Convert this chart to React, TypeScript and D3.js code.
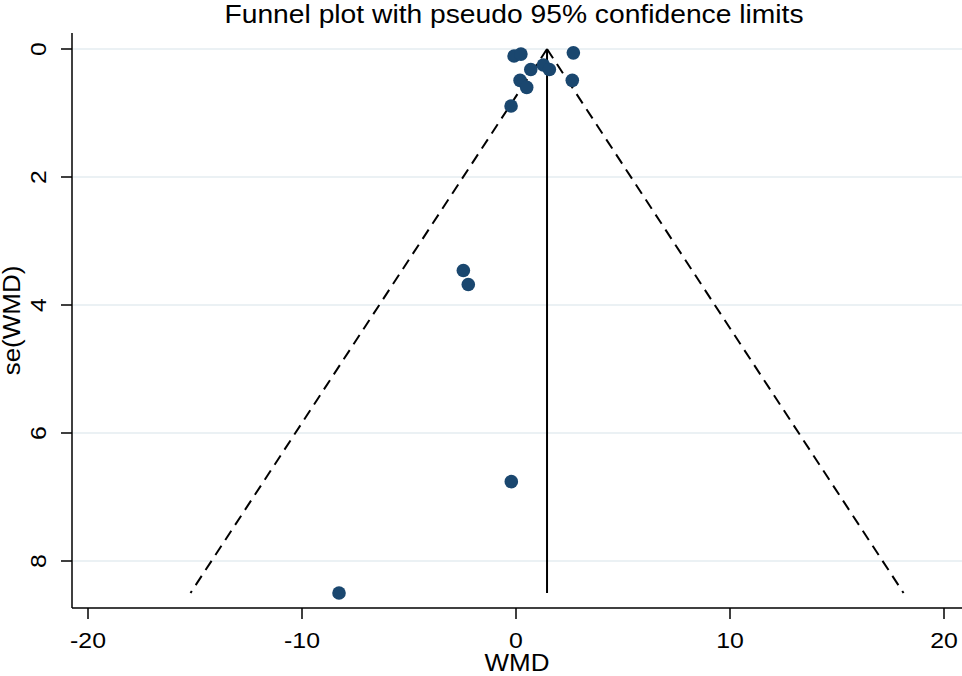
import * as d3 from "d3";
import React from "react";

// study estimates
const wmd = [-0.09, 0.23, 2.68, 0.69, 1.28, 1.56, 0.19, 0.5, 2.63, -0.23, -2.46, -2.23, -0.22, -8.27];
const seWmd = [0.11, 0.08, 0.06, 0.32, 0.25, 0.32, 0.49, 0.6, 0.49, 0.89, 3.46, 3.68, 6.76, 8.5];
const pooled = 1.45;
const seMax = 8.5;
const xTicks = [-20, -10, 0, 10, 20];
const yTicks = [0, 2, 4, 6, 8];

export default function App() {
  const svgRef = React.useRef<SVGSVGElement | null>(null);
  const width = 962;
  const height = 676;

  React.useEffect(() => {
    document.body.style.margin = "0";
    const svg = d3.select(svgRef.current);
    svg.selectAll("*").remove();
    const plot = { left: 72, right: 962, top: 33, bottom: 608 };
    const font = "'Liberation Sans', Arial, sans-serif";
    const stretch = 1.13; // the original glyphs are a bit wider than Arial

    const x = d3.scaleLinear().domain([-20, 20]).range([88, 944]);
    const y = d3.scaleLinear().domain([0, 8]).range([49, 561]);

    // gridlines
    svg
      .append("g")
      .selectAll("line")
      .data(yTicks)
      .join("line")
      .attr("x1", plot.left + 1)
      .attr("x2", plot.right)
      .attr("y1", (d) => y(d))
      .attr("y2", (d) => y(d))
      .attr("stroke", "#e5edf0")
      .attr("stroke-width", 1.5);

    // pseudo 95% limits
    const line = d3
      .line<number[]>()
      .x((d) => x(d[0]))
      .y((d) => y(d[1]));
    [-1.96, 1.96].forEach((z) => {
      svg
        .append("path")
        .attr("d", line([[pooled, 0], [pooled + z * seMax, seMax]]) ?? "")
        .attr("fill", "none")
        .attr("stroke", "#000")
        .attr("stroke-width", 2)
        .attr("stroke-dasharray", "11,7");
    });

    // pooled estimate
    svg
      .append("path")
      .attr("d", line([[pooled, 0], [pooled, seMax]]) ?? "")
      .attr("stroke", "#000")
      .attr("stroke-width", 2);

    // points
    svg
      .append("g")
      .selectAll("circle")
      .data(wmd)
      .join("circle")
      .attr("cx", (d) => x(d))
      .attr("cy", (_, i) => y(seWmd[i]))
      .attr("r", 6.8)
      .attr("fill", "#1a476f");

    // axes
    const xAxis = svg.append("g").attr("transform", `translate(0,${plot.bottom})`);
    xAxis
      .append("line")
      .attr("x1", plot.left)
      .attr("x2", plot.right)
      .attr("stroke", "#000")
      .attr("stroke-width", 1.5);
    xAxis
      .selectAll("g.tick")
      .data(xTicks)
      .join("g")
      .attr("class", "tick")
      .attr("transform", (d) => `translate(${x(d)},0)`)
      .each(function (d) {
        const g = d3.select(this);
        g.append("line").attr("y2", 11).attr("stroke", "#000").attr("stroke-width", 1.5);
        g.append("text")
          .attr("transform", `translate(0,40) scale(${stretch},1)`)
          .attr("text-anchor", "middle")
          .attr("font-family", font)
          .attr("font-size", 22)
          .text(String(d));
      });
    svg
      .append("text")
      .attr("transform", `translate(517,671) scale(${stretch},1)`)
      .attr("text-anchor", "middle")
      .attr("font-family", font)
      .attr("font-size", 23)
      .text("WMD");

    const yAxis = svg.append("g").attr("transform", `translate(${plot.left},0)`);
    yAxis
      .append("line")
      .attr("y1", plot.top)
      .attr("y2", plot.bottom)
      .attr("stroke", "#000")
      .attr("stroke-width", 1.5);
    yAxis
      .selectAll("g.tick")
      .data(yTicks)
      .join("g")
      .attr("class", "tick")
      .attr("transform", (d) => `translate(0,${y(d)})`)
      .each(function (d) {
        const g = d3.select(this);
        g.append("line").attr("x2", -11).attr("stroke", "#000").attr("stroke-width", 1.5);
        g.append("text")
          .attr("transform", `translate(-26,0) rotate(-90) scale(${stretch},1)`)
          .attr("text-anchor", "middle")
          .attr("font-family", font)
          .attr("font-size", 22)
          .text(String(d));
      });
    svg
      .append("text")
      .attr("transform", `translate(20,${(plot.top + plot.bottom) / 2}) rotate(-90) scale(${stretch},1)`)
      .attr("text-anchor", "middle")
      .attr("font-family", font)
      .attr("font-size", 23)
      .text("se(WMD)");

    svg
      .append("text")
      .attr("transform", `translate(514,23) scale(${stretch},1)`)
      .attr("text-anchor", "middle")
      .attr("font-family", font)
      .attr("font-size", 25)
      .text("Funnel plot with pseudo 95% confidence limits");
  }, []);

  return (
    <svg
      ref={svgRef}
      width={width}
      height={height}
      viewBox={`0 0 ${width} ${height}`}
      style={{ display: "block", background: "#fff" }}
    ></svg>
  );
}
